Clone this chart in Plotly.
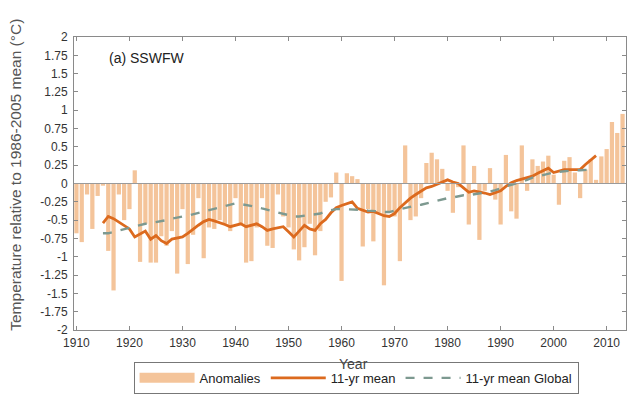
import plotly.graph_objects as go

years = list(range(1910, 2014))
anomalies = [
    -0.68, -0.80, -0.15, -0.62, -0.17, -0.03, -0.92, -1.46, -0.15, -0.50,
    -0.35, 0.18, -1.07, -0.55, -1.08, -1.08, -0.72, -0.85, -0.65, -1.23,
    -0.35, -1.10, -0.70, -0.20, -1.02, -0.60, -0.62, -0.50, -0.55, -0.65,
    -0.20, -0.55, -1.08, -1.06, -0.60, -0.20, -0.85, -0.88, -0.15, -0.45,
    -0.60, -0.90, -1.05, -0.87, -0.55, -0.98, -0.65, -0.25, -0.19, 0.15,
    -1.33, 0.14, 0.10, 0.06, -0.86, -0.35, -0.79, -0.40, -1.39, -0.40,
    -0.45, -1.06, 0.52, -0.50, -0.45, -0.20, 0.28, 0.42, 0.33, 0.20,
    -0.10, -0.40, -0.05, 0.52, -0.56, 0.24, -0.77, -0.10, 0.21, -0.22,
    -0.56, 0.39, -0.38, -0.48, 0.52, -0.10, 0.33, 0.24, 0.30, 0.38,
    0.12, -0.29, 0.31, 0.36, 0.15, -0.20, 0.19, 0.33, 0.05, 0.37,
    0.47, 0.84, 0.69, 0.95,
]

mean_years = list(range(1915, 2009))
mean_11yr = [
    -0.54, -0.45, -0.48, -0.53, -0.57, -0.62, -0.73, -0.69, -0.65, -0.76,
    -0.71, -0.78, -0.82, -0.76, -0.75, -0.73, -0.68, -0.62, -0.57, -0.52,
    -0.49, -0.51, -0.53, -0.56, -0.59, -0.57, -0.55, -0.59, -0.57, -0.55,
    -0.59, -0.64, -0.62, -0.60, -0.59, -0.66, -0.73, -0.65, -0.57, -0.62,
    -0.64, -0.55, -0.49, -0.40, -0.33, -0.30, -0.27, -0.25, -0.34, -0.36,
    -0.39, -0.38, -0.41, -0.44, -0.45, -0.41, -0.33, -0.26, -0.20, -0.15,
    -0.11, -0.06, -0.04, -0.01, 0.02, 0.05, 0.02, 0.00, -0.06, -0.12,
    -0.10, -0.11, -0.13, -0.15, -0.12, -0.10, -0.04, 0.01, 0.04, 0.06,
    0.08, 0.10, 0.14, 0.17, 0.21, 0.15, 0.17, 0.19, 0.19, 0.19,
    0.19, 0.26, 0.32, 0.38,
]

global_years = list(range(1915, 2008))
global_11yr = [
    -0.68, -0.68, -0.66, -0.64, -0.62, -0.60, -0.59, -0.57, -0.55, -0.54,
    -0.53, -0.51, -0.50, -0.48, -0.46, -0.45, -0.44, -0.42, -0.40, -0.38,
    -0.36, -0.35, -0.33, -0.30, -0.28, -0.27, -0.28, -0.29, -0.30, -0.32,
    -0.34, -0.36, -0.38, -0.40, -0.41, -0.43, -0.45, -0.45, -0.44, -0.43,
    -0.43, -0.41, -0.38, -0.36, -0.35, -0.35, -0.35, -0.36, -0.36, -0.36,
    -0.37, -0.37, -0.38, -0.39, -0.39, -0.37, -0.35, -0.33, -0.31, -0.30,
    -0.29, -0.27, -0.26, -0.24, -0.22, -0.20, -0.19, -0.17, -0.16, -0.16,
    -0.15, -0.14, -0.13, -0.11, -0.09, -0.06, -0.04, -0.02, 0.00, 0.02,
    0.05, 0.08, 0.10, 0.12, 0.14, 0.15, 0.16, 0.17, 0.17, 0.18,
    0.18, 0.18, 0.19,
]

y_tickvals = [2, 1.75, 1.5, 1.25, 1, 0.75, 0.5, 0.25, 0, -0.25, -0.5, -0.75,
              -1, -1.25, -1.5, -1.75, -2]
y_ticktext = ["2", "1.75", "1.5", "1.25", "1", "0.75", "0.5", "0.25", "0",
              "-0.25", "-0.5", "-0.75", "-1", "-1.25", "-1.5", "-1.75", "-2"]
x_tickvals = list(range(1910, 2011, 10))

BAR = "#F4C49A"
ORANGE = "#DC6A1E"
GREY = "#7D9990"
AXIS = "#8A8A8A"
FONT = "Liberation Sans, Arial, sans-serif"

fig = go.Figure()
fig.add_trace(go.Bar(x=years, y=anomalies, name="Anomalies", showlegend=False,
                     marker=dict(color=BAR, line=dict(width=0)), width=0.8))
# legend-only swatch for the bars (wide patch like the reference legend)
fig.add_trace(go.Scatter(x=[None], y=[None], name="Anomalies", mode="lines",
                         line=dict(color=BAR, width=14)))
fig.add_trace(go.Scatter(x=mean_years, y=mean_11yr, name="11-yr mean",
                         mode="lines", line=dict(color=ORANGE, width=2.8)))
fig.add_trace(go.Scatter(x=global_years, y=global_11yr, name="11-yr mean Global",
                         mode="lines", line=dict(color=GREY, width=2.4, dash="dash")))

fig.add_shape(type="line", xref="paper", x0=0, x1=1, yref="y", y0=0, y1=0,
              line=dict(color="#9a9a9a", width=1.2), layer="above")

fig.add_annotation(text="(a) SSWFW", xref="paper", yref="paper", x=0.06, y=0.928,
                   xanchor="left", yanchor="middle", showarrow=False,
                   font=dict(size=14, color="#222", family=FONT))
fig.add_annotation(text="Temperature relative to 1986-2005 mean (°C)",
                   xref="paper", yref="paper", x=-0.105, y=0.53, textangle=-90,
                   xanchor="center", yanchor="middle", showarrow=False,
                   font=dict(size=15.5, color="#555", family=FONT))
fig.add_annotation(text="Year", xref="paper", yref="paper", x=0.507, y=-0.115,
                   xanchor="center", yanchor="middle", showarrow=False,
                   font=dict(size=14, color="#444", family=FONT))

# the page body adds an 8px margin, so the figure is kept inside the visible window
fig.update_layout(
    width=619, height=389,
    margin=dict(l=66, r=1, t=29, b=67, autoexpand=False),
    paper_bgcolor="white", plot_bgcolor="white",
    font=dict(family=FONT, color="#333"),
    showlegend=True,
    legend=dict(orientation="h", x=0.511, xanchor="center",
                yref="container", y=0.008, yanchor="bottom",
                bordercolor="#777", borderwidth=1,
                font=dict(size=13, color="#222"),
                itemwidth=55, tracegroupgap=0),
    xaxis=dict(range=[1909.54, 2013.65], tickvals=x_tickvals,
               ticks="inside", ticklen=4, tickcolor=AXIS,
               showline=True, linecolor=AXIS, linewidth=1, mirror="ticks",
               showgrid=False, zeroline=False, automargin=False,
               tickfont=dict(size=12, color="#333"), ticklabelstandoff=2),
    yaxis=dict(range=[-2, 2], tickvals=y_tickvals, ticktext=y_ticktext,
               ticks="inside", ticklen=4, tickcolor=AXIS,
               showline=True, linecolor=AXIS, linewidth=1, mirror="ticks",
               showgrid=False, zeroline=False, automargin=False,
               tickfont=dict(size=12, color="#333"), ticklabelstandoff=3),
)

fig.write_html("out.html")
